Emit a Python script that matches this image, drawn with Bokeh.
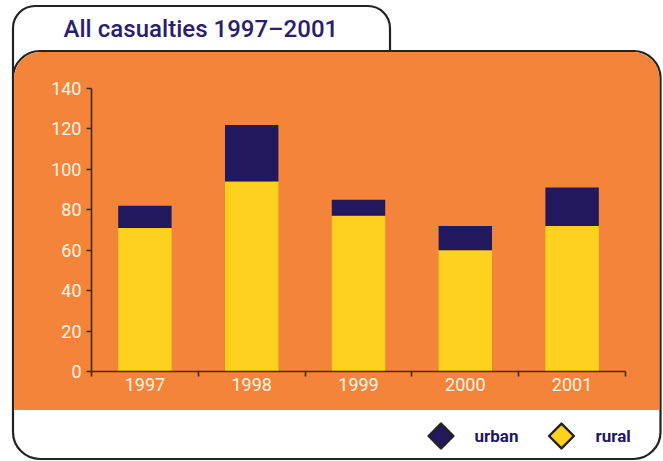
from bokeh.plotting import figure
from bokeh.models import (Range1d, FixedTicker, BoxAnnotation, Label,
                          PolyAnnotation, ColumnDataSource)
from bokeh.embed import file_html
from bokeh.resources import INLINE

# ---- data ----
years = [1997, 1998, 1999, 2000, 2001]
rural = [71, 94, 77, 60, 72]
urban = [11, 28, 8, 12, 19]
y_ticks = [0, 20, 40, 60, 80, 100, 120, 140]
series_labels = ["urban", "rural"]
title_text = "All casualties 1997\u20132001"

# ---- styles / layout ----
ORANGE = "#F4843A"
YELLOW = "#FED11F"
NAVY = "#22185E"
TITLE = "#2B1F6B"
CREAM = "#FFF4E6"
AXIS = "#3D2B1F"
BLACK = "#222222"

W, H = 663, 461
PX_L, PX_R, PX_T, PX_B = 91, 625, 88, 371   # data area inside the canvas

x0, x1 = years[0] - 0.5, years[-1] + 0.5
y0, y1 = y_ticks[0], y_ticks[-1]
kx = (PX_R - PX_L) / (x1 - x0)
ky = (PX_B - PX_T) / (y1 - y0)

p = figure(width=W, height=H, output_backend="svg", toolbar_location=None,
           x_range=Range1d(x0 - PX_L / kx, x1 + (W - PX_R) / kx),
           y_range=Range1d(y0 - (H - PX_B) / ky, y1 + PX_T / ky),
           min_border=0)
p.title.visible = False
p.border_fill_color = "white"
p.background_fill_color = "white"
p.outline_line_color = None
p.grid.visible = False

# ---- decorative frame (canvas units) ----
def cbox(**kw):
    return BoxAnnotation(left_units="canvas", right_units="canvas",
                         top_units="canvas", bottom_units="canvas",
                         level="underlay", **kw)

tab = cbox(left=12.5, right=389.5, top=5.5, bottom=100, fill_color="white", fill_alpha=1,
           line_color=BLACK, line_alpha=1, line_width=2.2, border_radius=22)
outer = cbox(left=12.5, right=660, top=50.5, bottom=458.5, fill_color="white", fill_alpha=1,
             line_color=BLACK, line_alpha=1, line_width=2.2, border_radius=27)
orange = cbox(left=13.6, right=658.9, top=51.6, bottom=409.5, fill_color=ORANGE, fill_alpha=1,
              line_alpha=0, border_radius=(26, 26, 0, 0))
for b in (tab, outer, orange):
    p.add_layout(b)

p.add_layout(Label(x=63, y=28, x_units="canvas", y_units="canvas", text=title_text,
                   text_font="'Roboto Medium', Roboto", text_font_size="24px",
                   text_color=TITLE, text_baseline="middle", text_align="left"))

# ---- bars ----
src = ColumnDataSource(dict(year=years, rural=rural, urban=urban))
p.vbar_stack(["rural", "urban"], x="year", width=0.5, source=src,
             fill_color=[YELLOW, NAVY], line_color=None)

# ---- axes ----
yax = p.yaxis[0]
yax.fixed_location = x0
yax.bounds = (y0, y1)
yax.ticker = FixedTicker(ticks=y_ticks)
yax.major_tick_out = 5
yax.major_tick_in = 0
yax.minor_tick_line_color = None
yax.axis_line_color = AXIS
yax.axis_line_width = 1.6
yax.major_tick_line_color = AXIS
yax.major_tick_line_width = 1.6
yax.major_label_text_color = CREAM
yax.major_label_text_font = "Roboto"
yax.major_label_text_font_size = "18px"
yax.major_label_standoff = 5

xax = p.xaxis[0]
xax.fixed_location = y0
xax.bounds = (x0, x1)
xax.ticker = FixedTicker(ticks=years,
                         minor_ticks=[y - 0.5 for y in years] + [years[-1] + 0.5])
xax.major_tick_out = 0
xax.major_tick_in = 0
xax.minor_tick_out = 5
xax.minor_tick_in = 0
xax.minor_tick_line_color = AXIS
xax.minor_tick_line_width = 1.6
xax.axis_line_color = AXIS
xax.axis_line_width = 1.6
xax.major_label_text_color = CREAM
xax.major_label_text_font = "Roboto"
xax.major_label_text_font_size = "18px"
xax.major_label_standoff = 1

# ---- legend: diamond keys + labels (canvas units) ----
legend_keys = [(series_labels[0], NAVY, 440.5, 474), (series_labels[1], YELLOW, 561, 595)]
KEY_Y, KEY_R = 435.5, 12.4
for label, color, cx, tx in legend_keys:
    p.add_layout(PolyAnnotation(
        xs=[cx, cx + KEY_R, cx, cx - KEY_R], ys=[KEY_Y - KEY_R, KEY_Y, KEY_Y + KEY_R, KEY_Y],
        xs_units="canvas", ys_units="canvas",
        fill_color=color, fill_alpha=1, line_color=BLACK, line_alpha=1,
        line_width=2.4, line_join="round"))
    p.add_layout(Label(x=tx, y=KEY_Y, x_units="canvas", y_units="canvas", text=label,
                       text_font="Roboto", text_font_size="17px", text_font_style="bold",
                       text_color=NAVY, text_baseline="middle", text_align="left"))

open("out.html", "w").write(file_html(p, INLINE))
